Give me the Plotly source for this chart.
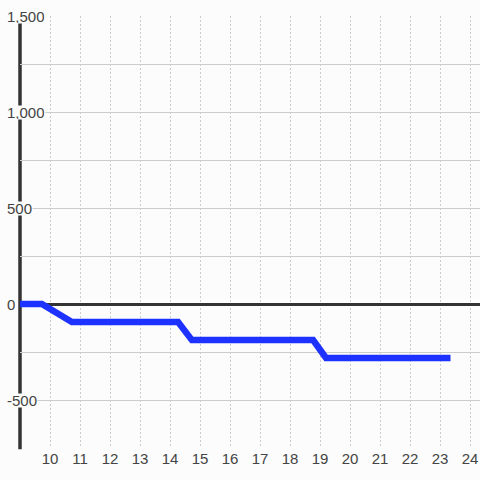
import plotly.graph_objects as go

# Data
x_vals = [9.0, 9.73, 10.73, 14.27, 14.73, 18.77, 19.2, 23.35]
y_vals = [0, 0, -94, -94, -188, -188, -281, -281]
x_ticks = list(range(10, 25))
y_label_vals = [1500, 1000, 500, 0, -500]
y_label_text = ["1,500", "1,000", "500", "0", "-500"]

BG = "#fbfcfb"
TXT = "#444444"
FONT = "Liberation Sans, Arial, sans-serif"

fig = go.Figure()
fig.add_trace(go.Scatter(
    x=x_vals, y=y_vals, mode="lines",
    line=dict(color="#1e32ff", width=6.5),
    hoverinfo="skip", showlegend=False,
))

# y axis line
fig.add_shape(type="line", xref="paper", yref="paper", x0=0, x1=0, y0=-0.003, y1=1,
              line=dict(color="#333333", width=3.5), layer="between")

for v, t in zip(y_label_vals, y_label_text):
    fig.add_annotation(x=0, xref="paper", y=v, yref="y", text=t, showarrow=False,
                       xanchor="left", yanchor="middle", xshift=-14,
                       font=dict(family=FONT, size=15, color=TXT),
                       bgcolor=BG, borderpad=0, height=13)

fig.update_layout(
    width=480, height=480,
    margin=dict(l=20, r=0, t=16, b=32),
    paper_bgcolor=BG, plot_bgcolor=BG,
    font=dict(family=FONT, size=15, color=TXT),
    xaxis=dict(range=[9, 24.333], tickvals=x_ticks, showgrid=True,
               gridcolor="#cccccc", gridwidth=1, griddash="2px,2px",
               zeroline=False, showline=False, ticks="",
               tickfont=dict(family=FONT, size=15, color=TXT)),
    yaxis=dict(range=[-750, 1500], dtick=250, showgrid=True,
               gridcolor="#cccccc", gridwidth=1,
               zeroline=True, zerolinecolor="#333333", zerolinewidth=3,
               showline=False, showticklabels=False, ticks=""),
)

fig.write_html("out.html", config={"displayModeBar": False},
               post_script="document.body.style.margin='0';document.body.style.overflow='hidden';")
